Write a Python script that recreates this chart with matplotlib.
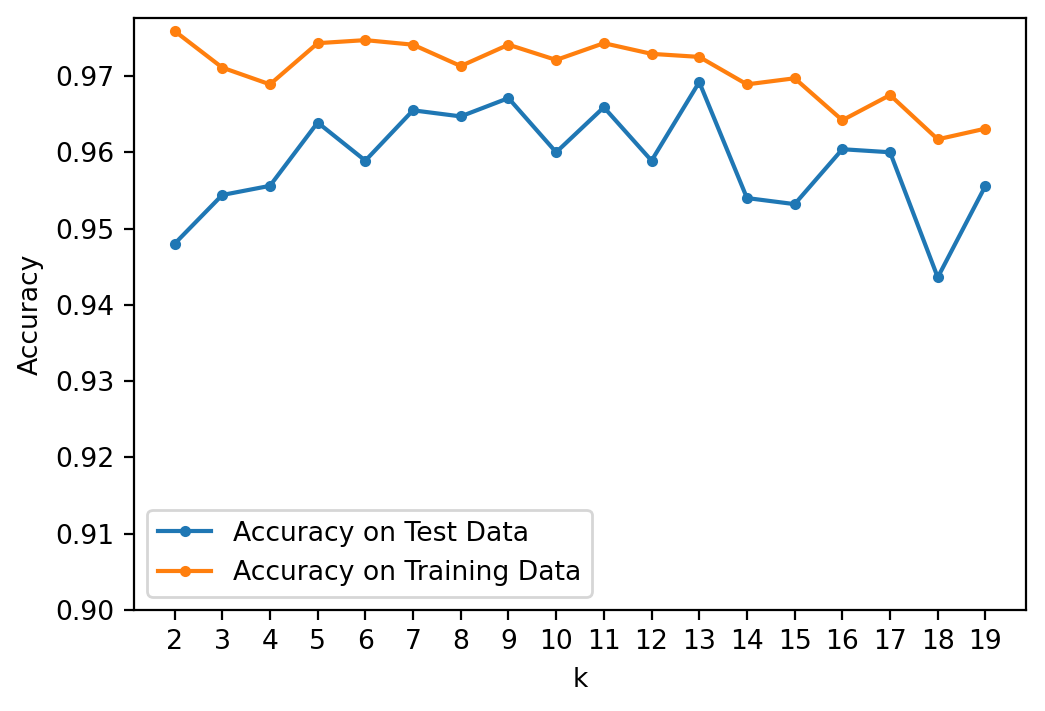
import matplotlib
matplotlib.use("Agg")
import matplotlib.pyplot as plt

# k values and accuracies
k_values = list(range(2, 20))
test_acc = [0.9480, 0.9544, 0.9556, 0.9639, 0.9589, 0.9655, 0.9647, 0.9671, 0.9600,
            0.9659, 0.9589, 0.9692, 0.9540, 0.9532, 0.9604, 0.9600, 0.9436, 0.9556]
train_acc = [0.9759, 0.9711, 0.9689, 0.9743, 0.9747, 0.9741, 0.9713, 0.9741, 0.9721,
             0.9743, 0.9729, 0.9725, 0.9689, 0.9697, 0.9642, 0.9675, 0.9617, 0.9631]

plt.rcParams['font.size'] = 9.6

fig = plt.figure(figsize=(5.225, 3.555), dpi=200)
ax = fig.add_axes([134 / 1045, 1 - 610 / 711, (1026 - 134) / 1045, (610 - 18) / 711])

ax.plot(k_values, test_acc, marker='.', label='Accuracy on Test Data')
ax.plot(k_values, train_acc, marker='.', label='Accuracy on Training Data')
ax.set_xticks(k_values)
ax.set_ylim(0.90, 0.9776)
ax.set_xlabel('k')
ax.set_ylabel('Accuracy')
ax.legend(loc='lower left')

fig.savefig('out.png', dpi=200)
